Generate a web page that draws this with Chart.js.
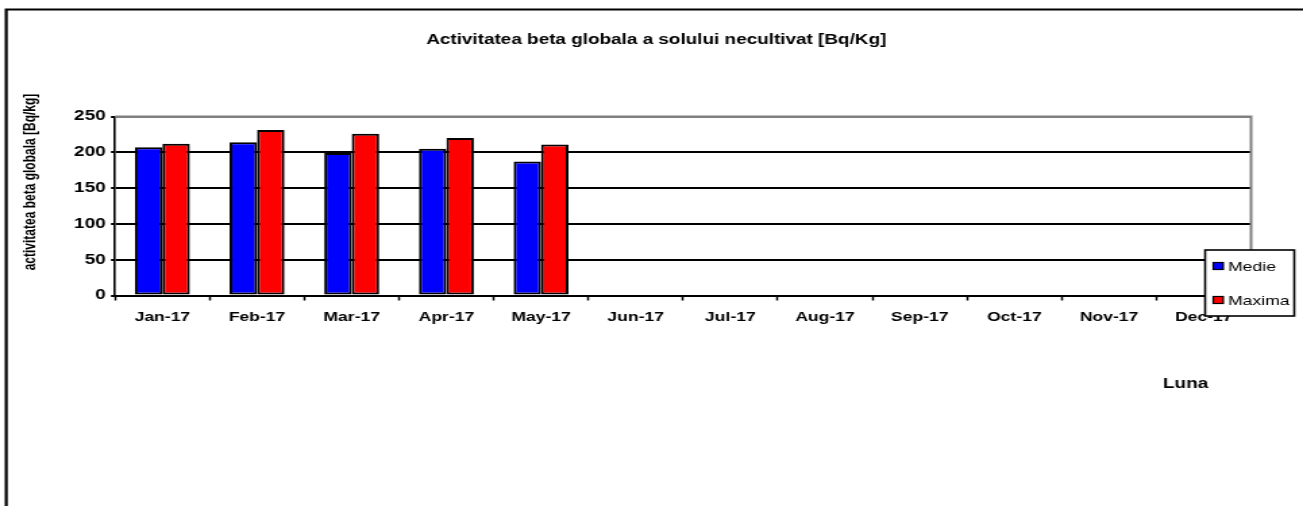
<!DOCTYPE html>
<html>
<head>
<meta charset="utf-8">
<script src="https://cdn.jsdelivr.net/npm/chart.js@4.4.1/dist/chart.umd.min.js"></script>
<style>
  html, body { margin: 0; padding: 0; background: #fff; overflow: hidden; }
  /* the original picture is stretched sideways, so draw narrow and stretch */
  #wrap { width: 965px; height: 506px; transform: scaleX(1.3503); transform-origin: 0 0; }
</style>
</head>
<body>
<div id="wrap"><canvas id="chart" width="965" height="506"></canvas></div>
<script>
const months = ['Jan-17', 'Feb-17', 'Mar-17', 'Apr-17', 'May-17', 'Jun-17',
                'Jul-17', 'Aug-17', 'Sep-17', 'Oct-17', 'Nov-17', 'Dec-17'];
const medie  = [207, 214, 199, 205, 187, null, null, null, null, null, null, null];
const maxima = [212, 231, 226, 220, 211, null, null, null, null, null, null, null];
const yTicks = [0, 50, 100, 150, 200, 250];

const chartTitle = 'Activitatea beta globala a solului necultivat [Bq/Kg]';
const yTitle = 'activitatea beta globala [Bq/kg]';
const xTitle = 'Luna';

const FONT = "'Liberation Sans', Arial, sans-serif";
Chart.defaults.font.family = FONT;
Chart.defaults.color = '#000';

// frame, plot border, titles and the boxed legend
const decor = {
    id: 'decor',
    beforeDraw(chart) {
        const c = chart.ctx;
        c.save();
        c.fillStyle = '#fff';
        c.fillRect(0, 0, chart.width, chart.height);
        c.strokeStyle = '#000';
        c.lineWidth = 2.2;
        c.beginPath();
        c.moveTo(4.6, 600);
        c.lineTo(4.6, 9.5);
        c.lineTo(1200, 9.5);
        c.stroke();
        c.restore();
    },
    beforeDatasetsDraw(chart) {
        const a = chart.chartArea;
        const c = chart.ctx;
        c.save();
        c.strokeStyle = '#808080';
        c.lineWidth = 2;
        c.beginPath();
        c.moveTo(a.left, a.top);
        c.lineTo(a.right, a.top);
        c.lineTo(a.right, a.bottom);
        c.stroke();
        c.restore();
    },
    afterDraw(chart) {
        const c = chart.ctx;
        c.save();
        c.fillStyle = '#000';
        c.textAlign = 'center';
        c.textBaseline = 'alphabetic';
        c.font = 'bold 14px ' + FONT;
        c.fillText(chartTitle, 486, 44);

        c.font = 'bold 14px ' + FONT;
        c.fillText(xTitle, 878, 388);

        c.save();
        c.translate(22.5, 182);
        c.rotate(-Math.PI / 2);
        c.textBaseline = 'middle';
        c.font = 'bold 12px ' + FONT;
        c.fillText(yTitle, 0, 0);
        c.restore();

        // legend box
        c.fillStyle = '#fff';
        c.fillRect(892.5, 250, 66, 66);
        c.strokeStyle = '#000';
        c.lineWidth = 1.6;
        c.strokeRect(892.5, 250, 66, 66);
        c.textAlign = 'left';
        c.textBaseline = 'middle';
        c.font = '13px ' + FONT;
        chart.data.datasets.forEach((ds, i) => {
            const y = 266 + i * 34;
            c.fillStyle = ds.backgroundColor;
            c.fillRect(898.5, y - 3.5, 7.4, 7);
            c.lineWidth = 1.2;
            c.strokeRect(898.5, y - 3.5, 7.4, 7);
            c.fillStyle = '#000';
            c.fillText(ds.label, 909.5, y + 1);
        });
        c.restore();
    }
};

new Chart(document.getElementById('chart'), {
    type: 'bar',
    data: {
        labels: months,
        datasets: [
            { label: 'Medie', data: medie, backgroundColor: '#0000ff',
              borderColor: '#000', borderWidth: 2, borderSkipped: false },
            { label: 'Maxima', data: maxima, backgroundColor: '#ff0000',
              borderColor: '#000', borderWidth: 2, borderSkipped: false }
        ]
    },
    options: {
        responsive: false,
        animation: false,
        events: [],
        layout: { padding: { left: 0, top: 116.5, right: 38.5, bottom: 0 } },
        datasets: { bar: { categoryPercentage: 0.58, barPercentage: 1.0 } },
        plugins: {
            legend: { display: false },
            title: { display: false },
            tooltip: { enabled: false }
        },
        scales: {
            x: {
                offset: true,
                afterFit(scale) { scale.height = 506 - 295.5; },
                grid: { offset: true, drawOnChartArea: false, tickLength: 5,
                        tickColor: '#000', tickWidth: 1.5 },
                border: { color: '#000', width: 2 },
                ticks: { font: { size: 13, weight: 'bold' }, padding: 9,
                         maxRotation: 0, autoSkip: false }
            },
            y: {
                min: 0,
                max: 250,
                afterFit(scale) { scale.width = 85.2; },
                afterBuildTicks(scale) { scale.ticks = yTicks.map(v => ({ value: v })); },
                grid: {
                    color: ctx => (ctx.tick && ctx.tick.value === 250) ? '#808080' : '#000',
                    lineWidth: 2,
                    tickLength: 3,
                    tickColor: '#000'
                },
                border: { color: '#000', width: 1.6 },
                ticks: { font: { size: 14, weight: 'bold' }, padding: 4 }
            }
        }
    },
    plugins: [decor]
});
</script>
</body>
</html>
